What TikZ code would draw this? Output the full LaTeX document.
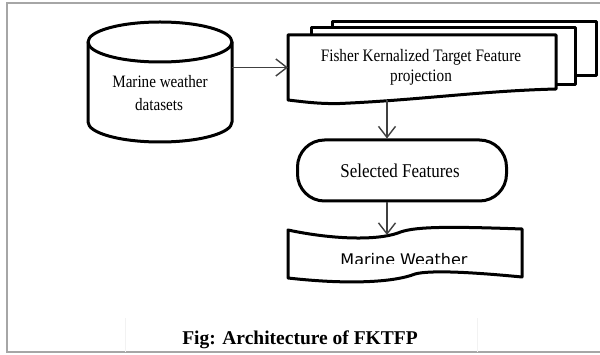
\documentclass[tikz,border=0pt]{standalone}
\usepackage{fontspec}
\setmainfont{Liberation Serif}
\newfontfamily\condserif{Liberation Serif}[FakeStretch=0.87]
\newfontfamily\sansdv{DejaVu Sans}
\usetikzlibrary{arrows.meta}
\begin{document}
\begin{tikzpicture}[x=1pt,y=-1pt,
  shapeline/.style={draw=black, line width=3pt, line join=round, fill=white},
  conn/.style={draw=black!75, line width=1.4pt, -{Straight Barb[length=11pt,width=17pt,line width=1.4pt]}},
  ghost/.style={inner sep=0pt, outer sep=0pt, draw=none},
  lbl/.style={anchor=base, inner sep=0pt}]
\useasboundingbox (0,0) rectangle (600,355);
% frame
\draw[gray!70, line width=1.5pt] (600,3) -- (7,3) -- (7,352) -- (600,352);
\draw[black!5, line width=1pt] (125,318) -- (125,352) (477,318) -- (477,352);

% cylinder
\draw[shapeline] (88,42) -- (88,122) arc[start angle=180,end angle=360,x radius=72pt,y radius=20pt]
  -- (232,42) arc[start angle=0,end angle=180,x radius=72pt,y radius=20pt] -- cycle;
\draw[shapeline, fill=none] (88,42) arc[start angle=180,end angle=360,x radius=72pt,y radius=20pt];
\node[ghost, minimum width=144pt, minimum height=120pt] (db) at (160,82) {};
\node[lbl, font=\condserif\fontsize{17.4}{20}\selectfont] (dbt1) at (160,88) {Marine weather};
\node[lbl, font=\condserif\fontsize{17.4}{20}\selectfont] (dbt2) at (159,111) {datasets};

% stacked documents
\draw[shapeline] (332,22) rectangle (596,76);
\draw[shapeline] (311,28) rectangle (575,85);
\draw[shapeline] (288,35) -- (556,35) -- (556,89)
  .. controls (480,91) and (420,100) .. (340,103.5)
  .. controls (320,104) and (305,102) .. (288,100) -- cycle;
\node[ghost, minimum width=268pt, minimum height=65pt] (fk) at (422,67.5) {};
\node[lbl, font=\condserif\fontsize{17.5}{20}\selectfont] (fkt1) at (421,62) {Fisher Kernalized Target Feature};
\node[lbl, font=\condserif\fontsize{17.5}{20}\selectfont] (fkt2) at (421,82) {projection};

% selected features terminal
\node[shapeline, rounded corners=27pt, minimum width=209pt, minimum height=61pt, inner sep=0pt] (sel) at (402,170.5) {};
\node[lbl, font=\condserif\fontsize{19.5}{22}\selectfont] (selt) at (400,178) {Selected Features};

% marine weather tape
\draw[shapeline] (288,230) .. controls (330,239) and (375,241) .. (398,233)
  .. controls (412,227) and (440,226) .. (522,229) -- (522,277)
  .. controls (470,272) and (430,270) .. (415,274)
  .. controls (395,282) and (350,285) .. (288,278) -- cycle;
\node[ghost, minimum width=234pt, minimum height=44pt] (mw) at (405,257) {};
\begin{scope}
  \clip (280,200) rectangle (530,264);
  \node[lbl, font=\sansdv\fontsize{16}{19}\selectfont] (mwt) at (404,266) {Marine Weather};
\end{scope}

% connectors
\coordinate (ax) at (387,0);
\draw[conn] (db.east |- fk.west) -- (fk.west);
\draw[conn] (fk.south -| ax) -- (sel.north -| ax);
\draw[conn] (sel.south -| ax) -- (mw.north -| ax);

% caption
\node[lbl, font=\bfseries\fontsize{19.5}{22}\selectfont] (cap) at (300,345) {Fig: Architecture of FKTFP};
\end{tikzpicture}
\end{document}
